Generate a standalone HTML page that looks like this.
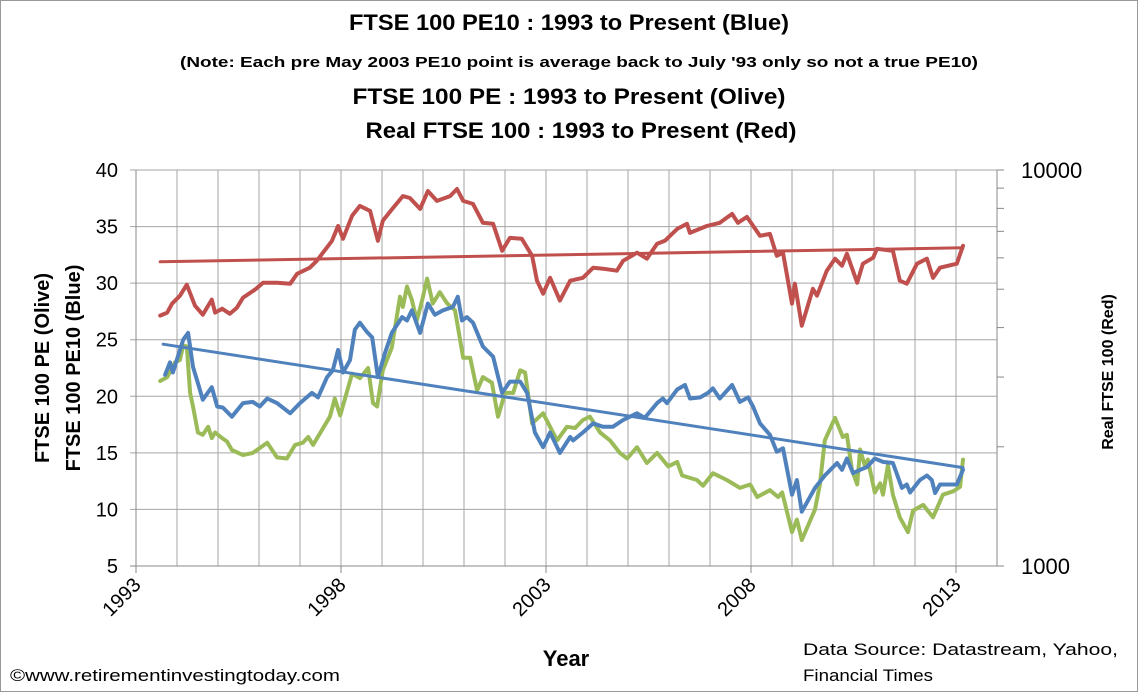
<!DOCTYPE html>
<html><head><meta charset="utf-8"><style>
html,body{margin:0;padding:0;background:#fff;}
svg{display:block;font-family:"Liberation Sans",sans-serif;}
</style></head><body>
<svg id="chart" width="1138" height="692" viewBox="0 0 1138 692">
<rect x="0.5" y="0.5" width="1137" height="691" fill="#fff" stroke="#999"/>
<g font-weight="bold" text-anchor="middle" fill="#000">
<text x="569" y="30" font-size="22" textLength="440" lengthAdjust="spacingAndGlyphs">FTSE 100 PE10 : 1993 to Present (Blue)</text>
<text x="579" y="67" font-size="15" textLength="798" lengthAdjust="spacingAndGlyphs">(Note:  Each pre May 2003  PE10 point is average  back to July '93 only so not a true PE10)</text>
<text x="569" y="104" font-size="22" textLength="433" lengthAdjust="spacingAndGlyphs">FTSE 100 PE : 1993 to Present (Olive)</text>
<text x="581" y="138" font-size="22" textLength="431" lengthAdjust="spacingAndGlyphs">Real FTSE 100 : 1993 to Present (Red)</text>
</g>
<g id="grid"></g>
<g id="axes"></g>
<g id="series"></g>
<text transform="translate(49,368) rotate(-90)" font-size="20" font-weight="bold" text-anchor="middle">FTSE 100 PE (Olive)</text>
<text transform="translate(80,368) rotate(-90)" font-size="20" font-weight="bold" text-anchor="middle">FTSE 100 PE10 (Blue)</text>
<text transform="translate(1113,372) rotate(-90)" font-size="16" font-weight="bold" text-anchor="middle">Real  FTSE 100 (Red)</text>
<text x="566" y="666" font-size="22" font-weight="bold" text-anchor="middle">Year</text>
<text x="10" y="681" font-size="17" textLength="330" lengthAdjust="spacingAndGlyphs">©www.retirementinvestingtoday.com</text>
<text x="803" y="655" font-size="17" textLength="315" lengthAdjust="spacingAndGlyphs">Data Source: Datastream,   Yahoo,</text>
<text x="803" y="681" font-size="17" textLength="130" lengthAdjust="spacingAndGlyphs">Financial Times</text>
</svg>
<script>
const yTicks=[5,10,15,20,25,30,35,40];
const xTickYears=[1993,1998,2003,2008,2013];
const y2Ticks=[1000,10000];
const y2Minor=[2000,3000,4000,5000,6000,7000,8000,9000];

const pe10Dates=[1993.71,1993.83,1993.90,1994.02,1994.15,1994.27,1994.39,1994.49,1994.63,1994.85,1994.98,1995.12,1995.34,1995.61,1995.85,1996.02,1996.20,1996.44,1996.76,1997.00,1997.29,1997.44,1997.66,1997.80,1997.93,1998.05,1998.22,1998.34,1998.46,1998.63,1998.76,1998.90,1999.07,1999.24,1999.49,1999.61,1999.73,1999.93,2000.12,2000.29,2000.49,2000.73,2000.85,2000.95,2001.07,2001.22,2001.46,2001.71,2001.93,2002.12,2002.37,2002.54,2002.73,2002.93,2003.10,2003.34,2003.59,2003.66,2003.90,2004.15,2004.39,2004.63,2004.88,2005.22,2005.41,2005.71,2005.85,2005.95,2006.20,2006.39,2006.51,2006.76,2006.95,2007.07,2007.24,2007.54,2007.73,2007.93,2008.05,2008.22,2008.46,2008.63,2008.78,2009.00,2009.12,2009.24,2009.56,2009.80,2010.10,2010.22,2010.34,2010.49,2010.66,2010.83,2011.02,2011.22,2011.46,2011.68,2011.80,2011.88,2012.12,2012.29,2012.41,2012.49,2012.61,2013.02,2013.17];
const pe10Values=[21.9,23.0,22.1,23.5,25.0,25.6,22.6,21.4,19.7,20.8,19.1,19.0,18.2,19.4,19.5,19.1,19.8,19.4,18.5,19.4,20.3,19.9,21.7,22.3,24.1,22.1,23.2,25.9,26.5,25.7,25.2,21.7,23.8,25.6,27.0,26.7,27.6,25.6,28.2,27.2,27.6,27.9,28.8,26.7,27.0,26.5,24.4,23.5,20.3,21.3,21.3,20.3,16.8,15.5,16.8,15.0,16.4,16.1,16.8,17.6,17.3,17.3,17.9,18.5,18.1,19.4,19.8,19.4,20.6,21.0,19.8,19.9,20.3,20.7,19.8,21.0,19.5,19.9,19.1,17.6,16.6,15.1,15.4,11.3,12.6,9.8,11.9,13.0,14.1,13.5,14.5,13.2,13.5,13.75,14.5,14.2,14.1,11.9,12.2,11.5,12.6,13.0,12.6,11.45,12.2,12.2,13.5];
const pe10TrendDates=[1993.66,2013.17];
const pe10TrendValues=[24.6,13.7];

const peDates=[1993.59,1993.76,1993.88,1993.95,1994.07,1994.15,1994.24,1994.32,1994.39,1994.51,1994.63,1994.76,1994.85,1994.93,1995.10,1995.22,1995.34,1995.61,1995.85,1996.20,1996.44,1996.68,1996.88,1997.07,1997.20,1997.32,1997.73,1997.85,1997.98,1998.27,1998.46,1998.66,1998.78,1998.88,1999.02,1999.24,1999.44,1999.51,1999.61,1999.73,1999.85,1999.98,2000.10,2000.24,2000.41,2000.59,2000.78,2000.98,2001.15,2001.32,2001.46,2001.68,2001.83,2002.00,2002.20,2002.37,2002.49,2002.66,2002.93,2003.27,2003.51,2003.71,2003.90,2004.07,2004.32,2004.56,2004.80,2004.98,2005.22,2005.46,2005.71,2005.98,2006.20,2006.32,2006.68,2006.83,2007.07,2007.41,2007.73,2007.98,2008.15,2008.46,2008.66,2008.76,2009.00,2009.12,2009.24,2009.56,2009.68,2009.80,2010.05,2010.24,2010.34,2010.46,2010.59,2010.66,2010.78,2010.85,2011.02,2011.15,2011.22,2011.34,2011.46,2011.63,2011.83,2011.95,2012.20,2012.44,2012.68,2012.93,2013.10,2013.17];
const peValues=[21.35,21.7,22.5,23.0,23.2,24.5,24.4,20.3,19.1,16.8,16.6,17.3,16.3,16.8,16.3,16.0,15.25,14.8,15.0,15.9,14.6,14.5,15.7,15.9,16.4,15.7,18.2,19.8,18.3,22.0,21.6,22.5,19.4,19.1,22.3,24.3,28.8,27.9,29.7,28.5,26.7,28.5,30.4,28.2,29.2,28.2,27.6,23.4,23.4,20.5,21.7,21.2,18.2,20.3,20.3,22.3,22.1,17.6,18.5,16.1,17.3,17.2,17.9,18.2,16.8,16.1,15.0,14.5,15.5,14.1,15.0,13.8,14.2,13.0,12.6,12.1,13.2,12.6,11.9,12.2,11.1,11.7,11.1,11.5,8.0,9.1,7.3,10.0,12.2,16.1,18.1,16.4,16.6,13.5,12.2,15.3,13.8,14.4,11.5,12.3,11.3,13.9,11.3,9.3,8.0,9.9,10.4,9.3,11.3,11.6,12.0,14.4];

const realDates=[1993.59,1993.76,1993.88,1994.07,1994.24,1994.44,1994.63,1994.85,1994.93,1995.10,1995.29,1995.46,1995.61,1995.90,1996.10,1996.44,1996.76,1996.93,1997.24,1997.41,1997.78,1997.93,1998.05,1998.27,1998.46,1998.71,1998.90,1999.02,1999.27,1999.51,1999.68,1999.93,2000.12,2000.34,2000.66,2000.83,2000.98,2001.22,2001.46,2001.71,2001.93,2002.12,2002.41,2002.66,2002.78,2002.93,2003.10,2003.34,2003.59,2003.90,2004.15,2004.39,2004.73,2004.88,2005.22,2005.46,2005.71,2005.90,2006.20,2006.44,2006.51,2006.93,2007.24,2007.54,2007.68,2007.90,2008.22,2008.46,2008.63,2008.78,2009.00,2009.07,2009.24,2009.51,2009.61,2009.85,2010.05,2010.22,2010.34,2010.59,2010.73,2010.98,2011.07,2011.46,2011.63,2011.80,2012.05,2012.29,2012.44,2012.61,2013.02,2013.17];
const realValues=[4288,4363,4598,4813,5133,4543,4311,4706,4363,4463,4335,4491,4760,4987,5193,5193,5163,5468,5665,5899,6626,7225,6701,7660,8118,7884,6626,7444,8022,8594,8499,7975,8848,8356,8594,8952,8356,8213,7355,7314,6252,6739,6701,6073,5253,4871,5343,4680,5253,5343,5665,5632,5569,5899,6181,5970,6512,6626,7099,7314,6935,7225,7355,7749,7355,7615,6819,6898,6073,6181,4598,5163,4045,5012,4815,5569,5970,5731,6146,5193,5801,6004,6325,6252,5253,5163,5801,5970,5343,5665,5801,6436];
const realTrendDates=[1993.59,2013.17];
const realTrendValues=[5864,6361];

const L=136,R=997,T=170,B=566,X0=1993,PXY=41;
const xS=t=>L+(t-X0)*PXY;
const yS=v=>B-(v-5)*(B-T)/35;
const y2S=v=>B-Math.log10(v/1000)*(B-T);
const NS='http://www.w3.org/2000/svg';
function mk(tag,attrs,parent){const e=document.createElementNS(NS,tag);for(const k in attrs)e.setAttribute(k,attrs[k]);parent.appendChild(e);return e;}
const grid=document.getElementById('grid'),axes=document.getElementById('axes'),series=document.getElementById('series');

for(let yr=1994;yr<=2014;yr++){
  const gl=mk('line',{x1:xS(yr),x2:xS(yr),y1:T,y2:B,stroke:'#a6a6a6','stroke-width':1},grid);
  
  
}
yTicks.forEach(v=>{
  const gl=mk('line',{x1:L-6,x2:R,y1:yS(v),y2:yS(v),stroke:'#a6a6a6','stroke-width':1},grid);
  
  
  const tx=mk('text',{x:L-18,y:yS(v)+7,'font-size':20,'text-anchor':'end'},axes);
  tx.textContent=v;
  
  
});
const la=mk('line',{x1:L,x2:L,y1:T,y2:B,stroke:'#888','stroke-width':1},axes);


const ra=mk('line',{x1:R,x2:R,y1:T,y2:B,stroke:'#888','stroke-width':1},axes);


const ba=mk('line',{x1:L-6,x2:R+6,y1:B,y2:B,stroke:'#888','stroke-width':1},axes);


y2Ticks.concat(y2Minor).forEach(v=>{
  const tk=mk('line',{x1:R,x2:R+7,y1:y2S(v),y2:y2S(v),stroke:'#888','stroke-width':1},axes);
  
  
});
y2Ticks.forEach(v=>{
  const tx=mk('text',{x:1021,y:y2S(v)+8,'font-size':22},axes);
  tx.textContent=v;
  
  
});
xTickYears.forEach(yr=>{
  const tk=mk('line',{x1:xS(yr),x2:xS(yr),y1:B,y2:B+7,stroke:'#888','stroke-width':1},axes);
  
  
  const tx=mk('text',{transform:`translate(${xS(yr)+6},${B+20}) rotate(-45)`,'font-size':20,'text-anchor':'end'},axes);
  tx.textContent=yr;
  
  
});

function line(dates,vals,sc,color,w,name){
  const d=dates.map((t,i)=>(i?'L':'M')+xS(t).toFixed(1)+','+sc(vals[i]).toFixed(1)).join('');
  const p=mk('path',{d:d,fill:'none',stroke:color,'stroke-width':w,'stroke-linejoin':'round','stroke-linecap':'round'},series);
  
  
}
line(realTrendDates,realTrendValues,y2S,'#C0504D',3,'real-ftse-trendline');
line(realDates,realValues,y2S,'#C0504D',4,'real-ftse-line');
line(peDates,peValues,yS,'#9BBB59',4,'pe-line');
line(pe10Dates,pe10Values,yS,'#4F81BD',4,'pe10-line');
line(pe10TrendDates,pe10TrendValues,yS,'#4F81BD',3,'pe10-trendline');
</script>
</body></html>
